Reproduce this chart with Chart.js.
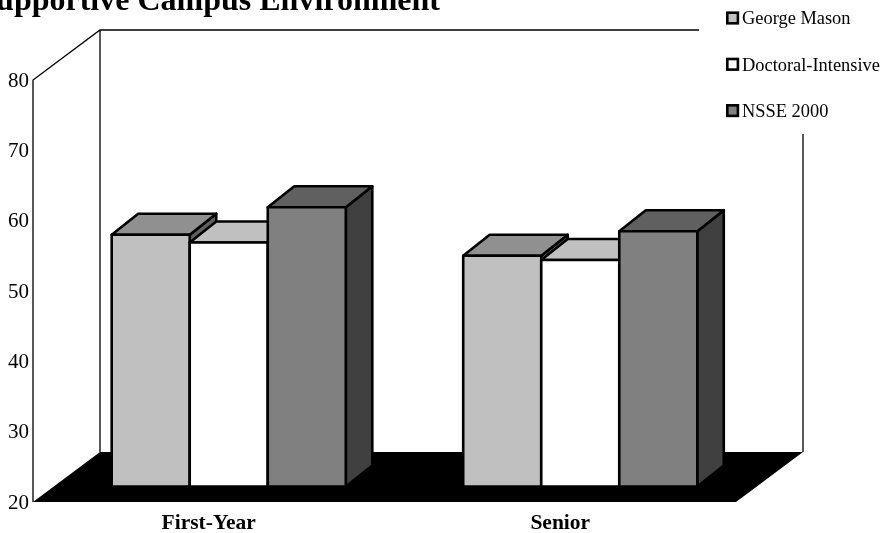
<!DOCTYPE html>
<html>
<head>
<meta charset="utf-8">
<style>
  html, body { margin: 0; padding: 0; background: #fff; overflow: hidden; }
  canvas { display: block; }
</style>
<script src="https://cdn.jsdelivr.net/npm/chart.js@4"></script>
</head>
<body>
<canvas id="chart" width="881" height="533"></canvas>
<script>
const titleText = 'Supportive Campus Environment';
const categories = ['First-Year', 'Senior'];
const seriesNames = ['George Mason', 'Doctoral-Intensive', 'NSSE 2000'];
const georgeMason = [55.8, 52.8];
const doctoralIntensive = [54.7, 52.2];
const nsse2000 = [59.7, 56.3];

const SERIF = '"Liberation Serif", "Times New Roman", serif';

// floor and wall depth, then how far bars sit in from the front and how deep they are
const WALL_DX = 67, WALL_DY = 50;
const BAR_SHIFT_X = 20, BAR_SHIFT_Y = 15.5;
const BAR_DX = 26.5, BAR_DY = 21;
const OUTLINE = 2.6;

function poly(ctx, pts, fill, lineWidth) {
  ctx.beginPath();
  pts.forEach((p, i) => i ? ctx.lineTo(p[0], p[1]) : ctx.moveTo(p[0], p[1]));
  ctx.closePath();
  ctx.fillStyle = fill;
  ctx.fill();
  if (lineWidth) {
    ctx.lineWidth = lineWidth;
    ctx.strokeStyle = '#000';
    ctx.lineJoin = 'round';
    ctx.stroke();
  }
}

function drawWalls(ctx, area) {
  const { left, right, top, bottom } = area;
  poly(ctx, [[left, bottom], [left + WALL_DX, bottom - WALL_DY], [right + WALL_DX, bottom - WALL_DY], [right, bottom]], '#000');
  ctx.beginPath();
  ctx.moveTo(left, bottom);
  ctx.lineTo(left, top);
  ctx.lineTo(left + WALL_DX, top - WALL_DY);
  ctx.lineTo(right + WALL_DX, top - WALL_DY);
  ctx.lineTo(right + WALL_DX, bottom - WALL_DY);
  ctx.moveTo(left + WALL_DX, top - WALL_DY);
  ctx.lineTo(left + WALL_DX, bottom - WALL_DY);
  ctx.lineWidth = 1.3;
  ctx.strokeStyle = '#000';
  ctx.stroke();
}

// side and top faces come first, the library bar fills the front, then its outline
function drawBar(ctx, bar, ds) {
  const x0 = bar.x - bar.width / 2, x1 = bar.x + bar.width / 2;
  const y0 = bar.y, y1 = bar.base;
  poly(ctx, [[x1, y0], [x1 + BAR_DX, y0 - BAR_DY], [x1 + BAR_DX, y1 - BAR_DY], [x1, y1]], ds.sideColor, OUTLINE);
  poly(ctx, [[x0, y0], [x0 + BAR_DX, y0 - BAR_DY], [x1 + BAR_DX, y0 - BAR_DY], [x1, y0]], ds.topColor, OUTLINE);
  bar.draw(ctx);
  ctx.lineWidth = OUTLINE;
  ctx.strokeStyle = '#000';
  ctx.strokeRect(x0, y0, bar.width, y1 - y0);
}

function drawLegend(ctx, chart) {
  ctx.fillStyle = '#fff';
  ctx.fillRect(699, 0, 182, 134);
  chart.data.datasets.forEach((ds, i) => {
    const cy = 18 + i * 46.3;
    ctx.fillStyle = ds.backgroundColor;
    ctx.fillRect(727.3, cy - 5.3, 10.6, 10.6);
    ctx.lineWidth = OUTLINE;
    ctx.strokeStyle = '#000';
    ctx.strokeRect(727.3, cy - 5.3, 10.6, 10.6);
    ctx.fillStyle = '#000';
    ctx.font = '18.4px ' + SERIF;
    ctx.textAlign = 'left';
    ctx.textBaseline = 'alphabetic';
    ctx.fillText(ds.label, 742, cy + 6.2);
  });
}

const bars3d = {
  id: 'bars3d',
  beforeDatasetsDraw(chart) {
    const ctx = chart.ctx;
    drawWalls(ctx, chart.chartArea);
    ctx.save();
    ctx.translate(BAR_SHIFT_X, -BAR_SHIFT_Y);
    // left to right, so each bar paints over the side of the one before it
    chart.data.datasets.forEach((ds, i) => {
      chart.getDatasetMeta(i).data.forEach(bar => drawBar(ctx, bar, ds));
    });
    ctx.restore();
    drawLegend(ctx, chart);
    ctx.fillStyle = '#000';
    ctx.font = 'bold 32px ' + SERIF;
    ctx.textAlign = 'right';
    ctx.textBaseline = 'alphabetic';
    ctx.fillText(titleText, 440, 10);
    return false;
  }
};

new Chart(document.getElementById('chart'), {
  type: 'bar',
  data: {
    labels: categories,
    datasets: [
      { label: seriesNames[0], data: georgeMason, backgroundColor: '#c0c0c0', topColor: '#909090', sideColor: '#606060' },
      { label: seriesNames[1], data: doctoralIntensive, backgroundColor: '#ffffff', topColor: '#c0c0c0', sideColor: '#808080' },
      { label: seriesNames[2], data: nsse2000, backgroundColor: '#808080', topColor: '#606060', sideColor: '#404040' }
    ]
  },
  plugins: [bars3d],
  options: {
    responsive: false,
    animation: false,
    layout: { padding: { top: 80, right: 145, left: 0, bottom: 0 } },
    plugins: { legend: { display: false }, tooltip: { enabled: false } },
    datasets: { bar: { categoryPercentage: 0.666, barPercentage: 1, borderWidth: 0, base: 20 } },
    scales: {
      x: {
        afterFit(scale) { scale.height = 31; },
        grid: { display: false, drawTicks: false },
        border: { display: false },
        ticks: { color: '#000', padding: 9, font: { family: SERIF, size: 21.5, weight: 'bold' } }
      },
      y: {
        min: 20,
        max: 80,
        afterFit(scale) { scale.width = 33; },
        grid: { display: false, drawTicks: false },
        border: { display: false },
        ticks: { stepSize: 10, color: '#000', padding: 4, labelOffset: 1, font: { family: SERIF, size: 21 } }
      }
    }
  }
});
</script>
</body>
</html>
